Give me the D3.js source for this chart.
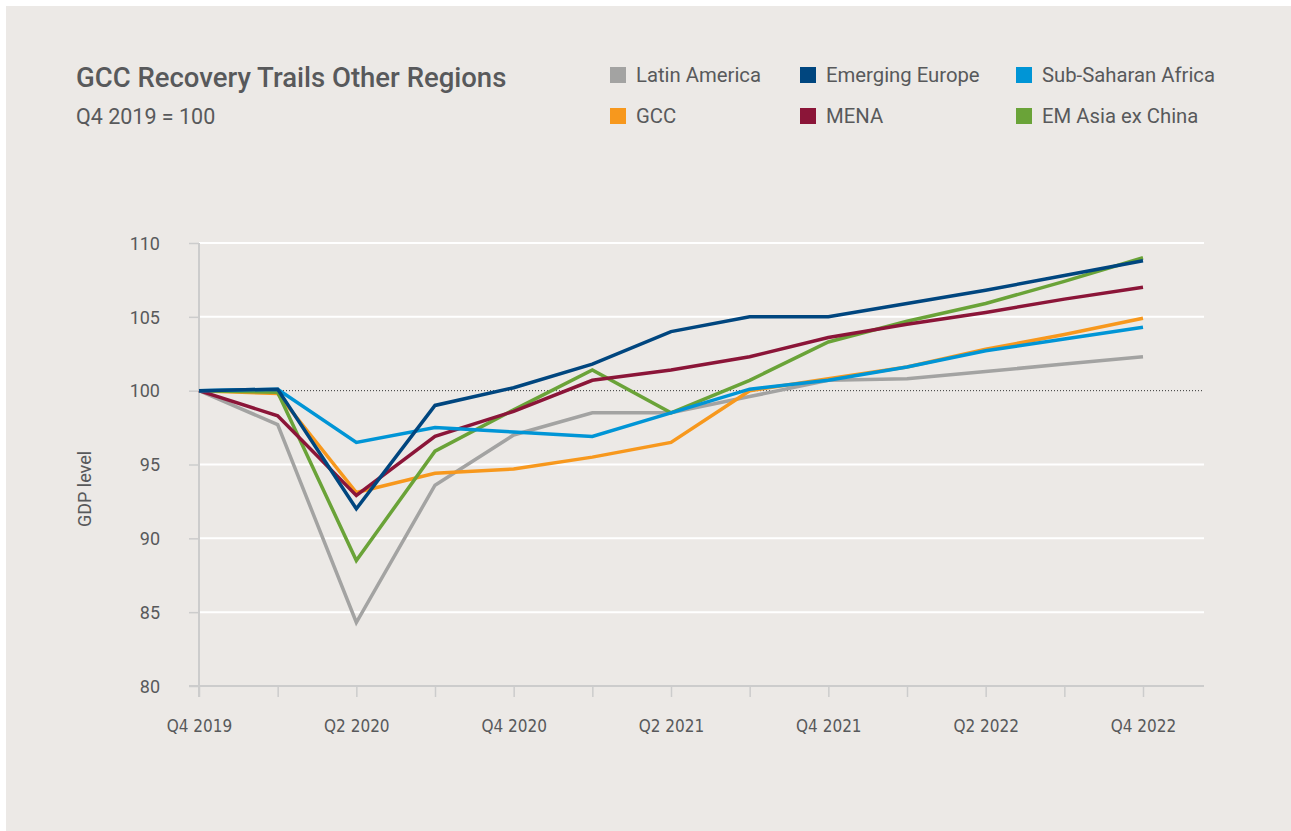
<!DOCTYPE html>
<html>
    <head>
        <meta charset="UTF-8">
        <title>GCC Recovery Trails Other Regions</title>
        <script src="https://d3js.org/d3.v7.min.js"></script>
        <style>
            body {
                margin: 0;
                padding: 0;
                background: #ffffff;
            }
            text {
                fill: #58595b;
                font-family: Roboto, "Noto Sans", sans-serif;
            }
            .narrow {
                font-family: "Liberation Sans Narrow", "DejaVu Sans Condensed", Roboto, sans-serif;
                font-stretch: condensed;
            }
        </style>
    </head>
    <body>
        <div id="chart"></div>
        <script>
            // quarters on the x axis, Q4 2019 .. Q4 2022
            var quarters = ['Q4 2019', 'Q1 2020', 'Q2 2020', 'Q3 2020', 'Q4 2020', 'Q1 2021', 'Q2 2021',
                            'Q3 2021', 'Q4 2021', 'Q1 2022', 'Q2 2022', 'Q3 2022', 'Q4 2022'];
            var yTicks = [80, 85, 90, 95, 100, 105, 110];

            // GDP level, Q4 2019 = 100
            var latinAmerica    = [100, 97.7, 84.3, 93.6, 97.0, 98.5, 98.5, 99.6, 100.7, 100.8, 101.3, 101.8, 102.3];
            var emergingEurope  = [100, 100.1, 92.0, 99.0, 100.2, 101.8, 104.0, 105.0, 105.0, 105.9, 106.8, 107.8, 108.8];
            var subSaharan      = [100, 100.1, 96.5, 97.5, 97.2, 96.9, 98.5, 100.1, 100.7, 101.6, 102.7, 103.5, 104.3];
            var gcc             = [100, 99.8, 93.1, 94.4, 94.7, 95.5, 96.5, 100.0, 100.8, 101.6, 102.8, 103.8, 104.9];
            var mena            = [100, 98.3, 92.9, 96.9, 98.6, 100.7, 101.4, 102.3, 103.6, 104.5, 105.3, 106.2, 107.0];
            var emAsia          = [100, 99.9, 88.5, 95.9, 98.7, 101.4, 98.5, 100.7, 103.3, 104.7, 105.9, 107.4, 109.0];

            // legend order (two rows of three) and drawing order
            var legendItems = [
                {name: 'Latin America', color: '#a3a3a2'},
                {name: 'Emerging Europe', color: '#00467f'},
                {name: 'Sub-Saharan Africa', color: '#0095d6'},
                {name: 'GCC', color: '#f7981d'},
                {name: 'MENA', color: '#8b1538'},
                {name: 'EM Asia ex China', color: '#6aa338'}
            ];
            var series = [
                {name: 'Latin America', values: latinAmerica, color: '#a3a3a2'},
                {name: 'GCC', values: gcc, color: '#f7981d'},
                {name: 'EM Asia ex China', values: emAsia, color: '#6aa338'},
                {name: 'MENA', values: mena, color: '#8b1538'},
                {name: 'Sub-Saharan Africa', values: subSaharan, color: '#0095d6'},
                {name: 'Emerging Europe', values: emergingEurope, color: '#00467f'}
            ];

            var svgWidth = 1291, svgHeight = 831;
            var svg = d3.select('#chart').append('svg')
                .attr('width', svgWidth)
                .attr('height', svgHeight)
                .style('display', 'block');

            // grey panel
            svg.append('rect')
                .attr('x', 6).attr('y', 6)
                .attr('width', svgWidth - 6).attr('height', svgHeight - 6)
                .attr('fill', '#ece9e6');

            // title + subtitle
            svg.append('text')
                .attr('x', 76).attr('y', 87)
                .style('font-size', '27.5px')
                .style('font-weight', 500)
                .text('GCC Recovery Trails Other Regions');
            svg.append('text')
                .attr('x', 76).attr('y', 124)
                .style('font-size', '21.5px')
                .text('Q4 2019 = 100');

            // legend
            var legendX = [610, 800, 1016], legendY = [67, 108];
            var legend = svg.append('g');
            legendItems.forEach((d, i) => {
                var lx = legendX[i % 3], ly = legendY[Math.floor(i / 3)];
                legend.append('rect')
                    .attr('x', lx).attr('y', ly)
                    .attr('width', 16).attr('height', 16)
                    .attr('fill', d.color);
                legend.append('text')
                    .attr('x', lx + 26).attr('y', ly + 15)
                    .style('font-size', '20.3px')
                    .text(d.name);
            });

            // plot area
            var x = d3.scalePoint().domain(quarters).range([199, 1143]);
            var y = d3.scaleLinear().domain([80, 110]).range([686, 243]);
            var plotRight = 1204;

            // white gridlines
            svg.append('g')
                .selectAll('line')
                .data(yTicks.filter(t => t !== 80 && t !== 100))
                .join('line')
                .attr('x1', 199).attr('x2', plotRight)
                .attr('y1', d => y(d)).attr('y2', d => y(d))
                .attr('stroke', '#ffffff')
                .attr('stroke-width', 2);

            // dotted reference line at 100
            svg.append('line')
                .attr('x1', 199).attr('x2', plotRight)
                .attr('y1', y(100)).attr('y2', y(100))
                .attr('stroke', '#333333')
                .attr('stroke-width', 1)
                .attr('stroke-dasharray', '1 2');

            // y axis
            var yAxis = d3.axisLeft(y).tickValues(yTicks).tickSize(10).tickPadding(29);
            var gy = svg.append('g')
                .attr('transform', `translate(199,0)`)
                .call(yAxis);
            gy.select('.domain')
                .attr('d', `M0,${y(110)}V697`)
                .attr('stroke', '#cccccc')
                .attr('stroke-width', 2);
            gy.selectAll('.tick line').attr('stroke', '#cccccc').attr('stroke-width', 1.5);
            gy.selectAll('.tick text')
                .style('font-size', '18px')
                .style('font-family', null)
                .attr('fill', '#58595b')
                .attr('dy', '0.35em');

            // x axis
            var xAxis = d3.axisBottom(x)
                .tickSize(11)
                .tickPadding(23)
                .tickFormat((d, i) => i % 2 === 0 ? d : '');
            var gx = svg.append('g')
                .attr('transform', `translate(0,${y(80)})`)
                .call(xAxis);
            gx.select('.domain')
                .attr('d', `M189,0H${plotRight}`)
                .attr('stroke', '#cccccc')
                .attr('stroke-width', 2);
            gx.selectAll('.tick line').attr('stroke', '#cccccc').attr('stroke-width', 1.5);
            gx.selectAll('.tick text')
                .attr('class', 'narrow')
                .style('font-size', '17px')
                .attr('fill', '#58595b');

            // y axis title
            svg.append('text')
                .attr('transform', `translate(91,489) rotate(-90)`)
                .attr('text-anchor', 'middle')
                .style('font-size', '18px')
                .text('GDP level');

            // series lines
            var line = d3.line()
                .x((d, i) => x(quarters[i]))
                .y(d => y(d));
            svg.append('g')
                .selectAll('path')
                .data(series)
                .join('path')
                .attr('d', d => line(d.values))
                .attr('fill', 'none')
                .attr('stroke', d => d.color)
                .attr('stroke-width', 3.5)
                .attr('stroke-linejoin', 'miter');
        </script>
    </body>
</html>
